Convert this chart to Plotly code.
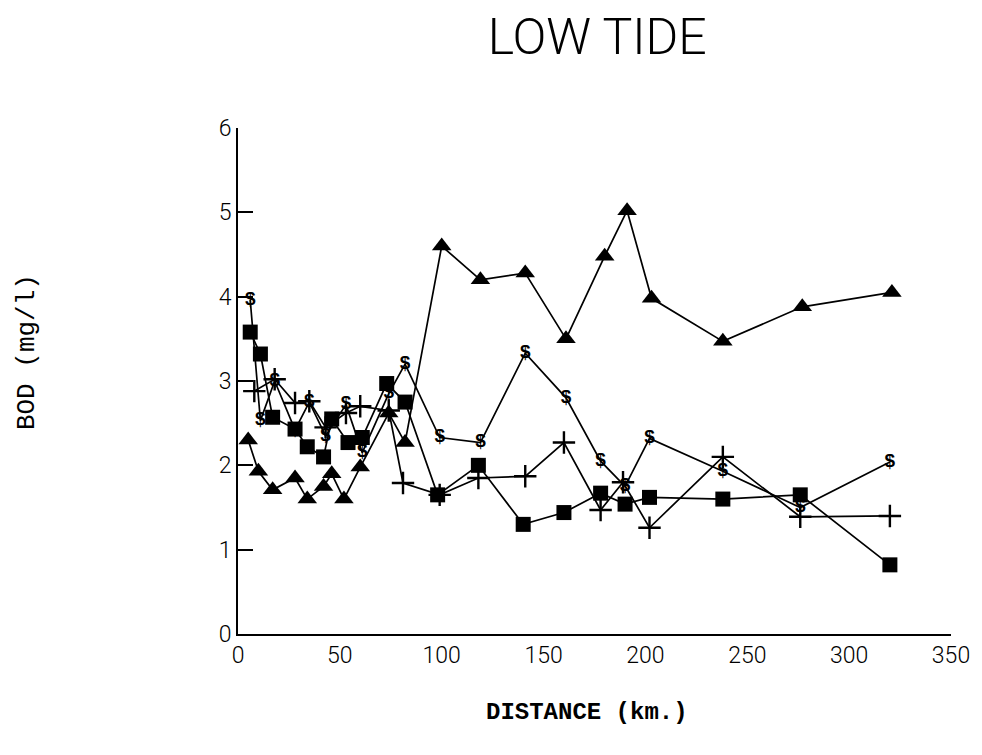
import plotly.graph_objects as go

# Triangle series
tri_km = [5, 10, 17, 28, 34, 42, 46, 52, 60, 74, 82, 100, 119, 141, 161, 180, 191, 203, 238, 277, 321]
tri_bod = [2.3, 1.93, 1.71, 1.85, 1.6, 1.75, 1.9, 1.6, 1.98, 2.62, 2.27, 4.6, 4.2, 4.28, 3.5, 4.48, 5.02, 3.98, 3.47, 3.88, 4.05]

# Square series
sq_km = [6, 11, 17, 28, 34, 42, 46, 54, 61, 73, 82, 98, 118, 140, 160, 178, 190, 202, 238, 276, 320]
sq_bod = [3.58, 3.32, 2.57, 2.43, 2.22, 2.1, 2.55, 2.27, 2.33, 2.97, 2.75, 1.65, 2.0, 1.3, 1.44, 1.67, 1.54, 1.62, 1.6, 1.65, 0.82]

# Plus series
plus_km = [8, 18, 28, 35, 43, 53, 60, 74, 81, 99, 118, 141, 160, 178, 189, 202, 238, 276, 320]
plus_bod = [2.88, 3.02, 2.74, 2.76, 2.45, 2.62, 2.7, 2.65, 1.79, 1.65, 1.85, 1.87, 2.27, 1.47, 1.8, 1.26, 2.1, 1.39, 1.4]

# Dollar-sign series
dol_km = [6, 11, 18, 28, 35, 43, 53, 61, 74, 82, 99, 119, 141, 161, 178, 190, 202, 238, 276, 320]
dol_bod = [3.96, 2.53, 3.0, 2.42, 2.75, 2.35, 2.72, 2.15, 2.85, 3.2, 2.33, 2.27, 3.33, 2.8, 2.05, 1.75, 2.32, 1.93, 1.5, 2.04]

x_ticks = [0, 50, 100, 150, 200, 250, 300, 350]
y_ticks = [0, 1, 2, 3, 4, 5, 6]

line = dict(color="black", width=1.7)
fig = go.Figure()
fig.add_trace(go.Scatter(x=dol_km, y=dol_bod, mode="lines+text", text=["<b>$</b>"] * len(dol_km),
                         textposition="middle center",
                         textfont=dict(family="Liberation Sans, sans-serif", size=19, color="black"),
                         line=line, cliponaxis=False))
fig.add_trace(go.Scatter(x=plus_km, y=plus_bod, mode="lines+markers", line=line,
                         marker=dict(symbol="cross-thin-open", size=16, color="black",
                                     line=dict(color="black", width=2.4)), cliponaxis=False))
fig.add_trace(go.Scatter(x=tri_km, y=tri_bod, mode="lines+markers", line=line,
                         marker=dict(symbol="triangle-up", size=17, color="black"), cliponaxis=False))
fig.add_trace(go.Scatter(x=sq_km, y=sq_bod, mode="lines+markers", line=line,
                         marker=dict(symbol="square", size=15, color="black"), cliponaxis=False))

tickfont = dict(family="Roboto, Liberation Sans, sans-serif", size=23, color="black", weight=300)
fig.update_layout(
    width=974, height=747,
    margin=dict(l=230, r=25, t=120, b=121),
    paper_bgcolor="white", plot_bgcolor="white",
    showlegend=False,
    title=dict(text="LOW TIDE", x=0.605, y=0.962, xanchor="center", yanchor="middle",
               font=dict(family="Roboto, Liberation Sans, sans-serif", size=50, color="black", weight=300)),
    xaxis=dict(range=[0, 350], tickvals=x_ticks, ticktext=[str(v) for v in x_ticks],
               showgrid=False, zeroline=False, showline=True, linecolor="black", linewidth=1.7,
               ticks="", tickfont=tickfont),
    yaxis=dict(range=[0, 6], tickvals=y_ticks, ticktext=[str(v) for v in y_ticks],
               showgrid=False, zeroline=False, showline=True, linecolor="black", linewidth=1.7,
               ticks="inside", ticklen=15, tickwidth=1.7, tickcolor="black", tickfont=tickfont),
    annotations=[
        dict(text="BOD (mg/l)", xref="paper", yref="paper", x=-0.296, y=0.557, textangle=-90,
             showarrow=False, xanchor="center", yanchor="middle",
             font=dict(family="Liberation Mono, monospace", size=26, color="black")),
        dict(text="<b>DISTANCE (km.)</b>", xref="paper", yref="paper", x=0.49, y=-0.156,
             showarrow=False, xanchor="center", yanchor="middle",
             font=dict(family="Liberation Mono, monospace", size=24, color="black")),
    ],
)
fig.write_html("out.html")
